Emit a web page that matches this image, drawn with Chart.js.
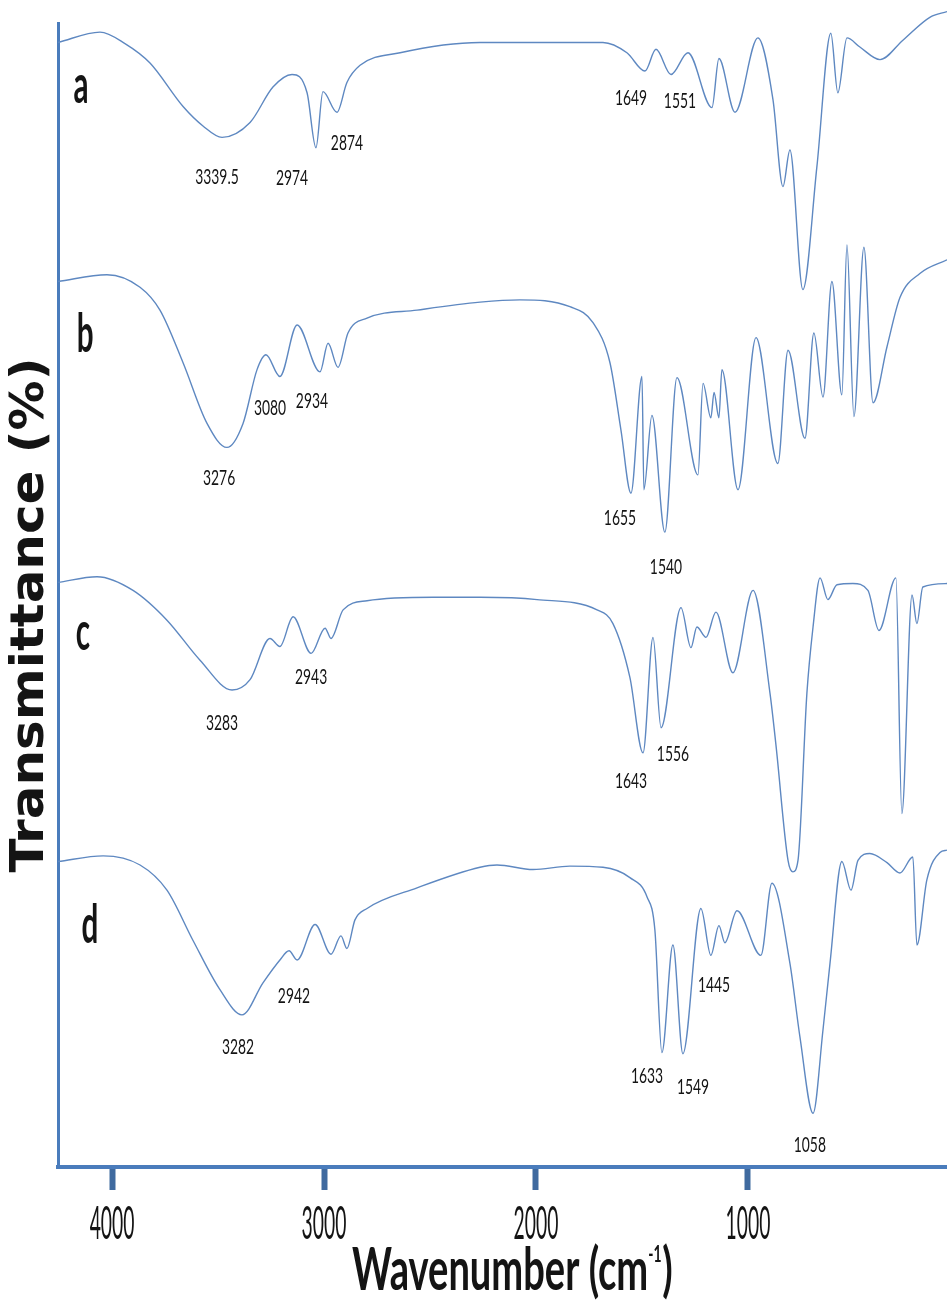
<!DOCTYPE html>
<html>
<head>
<meta charset="utf-8">
<script src="https://cdn.jsdelivr.net/npm/chart.js@4.4.1/dist/chart.umd.min.js"></script>
<style>
html,body{margin:0;padding:0;background:#fff;}
#wrap{width:947px;height:1306px;position:relative;}
</style>
</head>
<body>
<div id="wrap"><canvas id="c" width="947" height="1306"></canvas></div>
<script>
// ---------- DATA (wavenumber cm-1, transmittance with stacking offset, a.u.) ----------
const waveA = [4255,4057,3939,3821,3665,3571,3481,3349,3241,3151,3080,3038,3005,2939,2892,2830,2641,2264,1995,1684,1571,1486,1434,1363,1283,1170,1137,1061,953,882,835,802,741,675,609,576,533,472,377,269,142,61];
const transA = [98.3,99.2,98.2,96.5,92.7,91.0,90.0,91.3,94.4,95.5,93.9,89.1,94.0,92.2,94.8,96.3,97.4,98.3,98.3,98.3,97.4,95.8,97.7,95.5,97.4,92.6,96.9,92.2,98.7,93.3,85.7,88.9,76.7,87.4,99.1,93.9,98.7,97.9,96.8,98.5,100.5,101.0];

const waveB = [4255,4024,3868,3774,3665,3552,3458,3382,3316,3274,3208,3127,3019,2981,2934,2887,2797,2561,2264,2076,1840,1731,1651,1599,1552,1500,1491,1453,1392,1335,1236,1212,1175,1160,1137,1123,1047,962,859,811,731,689,646,604,557,533,500,453,410,344,283,189,61];
const transB = [77.4,78.0,76.9,74.9,70.3,65.0,62.9,65.0,69.7,71.0,69.1,73.6,69.5,72.0,69.9,72.9,74.2,74.9,75.6,75.8,75.2,73.8,70.3,64.4,58.9,69.1,59.2,65.7,55.5,69.0,60.5,68.5,65.5,67.7,65.5,69.7,59.2,72.5,61.5,71.4,63.7,72.9,67.3,77.4,67.5,80.6,65.6,80.4,66.8,71.7,76.0,78.1,79.3];

const waveC = [4255,4071,3901,3741,3585,3434,3349,3255,3208,3146,3061,2995,2967,2910,2797,2486,2264,1995,1712,1637,1557,1495,1448,1410,1316,1269,1241,1198,1151,1071,976,896,868,811,788,764,722,693,660,623,580,505,434,382,302,274,226,203,175,61];
const transC = [51.1,51.6,50.4,47.8,44.3,41.7,42.6,46.2,45.5,48.1,44.9,47.1,46.2,48.7,49.5,49.8,49.8,49.6,48.7,47.5,42.8,36.2,46.3,38.4,48.9,45.4,47.2,46.3,48.5,43.2,50.4,41.4,36.9,26.8,25.8,26.8,41.4,47.2,51.5,49.6,50.9,51.0,50.4,46.9,51.5,30.9,50.0,47.5,50.7,51.0];

const waveD = [4255,4042,3868,3741,3618,3491,3387,3288,3208,3165,3127,3042,2967,2920,2892,2854,2797,2561,2264,2184,2014,1840,1684,1557,1476,1439,1406,1354,1307,1222,1175,1137,1109,1052,939,887,802,755,693,646,613,557,514,481,425,344,283,222,203,156,94,61];
const transD = [26.7,27.2,26.4,24.2,19.8,15.5,13.3,16.1,18.1,18.9,18.1,21.2,18.6,20.2,19.1,21.6,22.6,24.4,26.2,26.4,26.0,26.3,26.2,25.3,23.6,20.7,10.0,19.4,9.9,22.6,18.5,21.1,19.6,22.4,18.5,24.8,17.8,11.4,4.7,12.0,17.8,26.7,24.2,26.8,27.4,26.6,25.7,27.1,19.4,25.1,27.5,27.7];

const tickValues = [4000,3000,2000,1000];

const peakLabels = ['3339.5','2974','2874','1649','1551','3276','3080','2934','1655','1540','3283','2943','1643','1556','3282','2942','1633','1549','1445','1058'];
const labelWave  = [3505,3151,2892,1552,1321,3495,3255,3057,1604,1387,3481,3061,1552,1354,3406,3142,1476,1259,1160,708];
const labelTrans = [86.5,86.4,89.5,93.4,93.2,60.2,66.3,66.9,56.7,52.4,38.8,42.8,33.7,36.1,10.5,14.9,7.9,7.0,15.9,1.9];

const panelLetters = ['a','b','c','d'];
const letterWave  = [4146,4127,4137,4104];
const letterTrans = [93.0,71.2,45.2,19.6];

const xTitleMain = 'Wavenumber (cm';
const xTitleSup = '-1';
const xTitleEnd = ')';
const yTitle = 'Transmittance (%)';

// ---------- STYLE ----------
const LINE_COLOR = '#5e88c1';
const AXIS_COLOR = '#4a7cbc';
const TICK_COLOR = '#3f6a9f';
const TEXT_COLOR = '#141414';

function pts(w, t){ return w.map((x,i)=>({x:x, y:t[i]})); }
function ds(label, w, t){
  return {label:label, data:pts(w,t), borderColor:LINE_COLOR, borderWidth:1.4, pointRadius:0,
          fill:false, cubicInterpolationMode:'monotone', clip:false};
}

const textPlugin = {
  id:'texts',
  afterDraw(chart){
    const ctx = chart.ctx, xs = chart.scales.x, ys = chart.scales.y;
    function txt(s, x, y, font, sx, align, base){
      ctx.save();
      ctx.font = font; ctx.fillStyle = TEXT_COLOR;
      ctx.textAlign = align || 'center'; ctx.textBaseline = base || 'alphabetic';
      ctx.translate(x, y); ctx.scale(sx, 1); ctx.fillText(s, 0, 0);
      ctx.restore();
    }
    // peak annotations
    peakLabels.forEach((s,i)=>{
      txt(s, xs.getPixelForValue(labelWave[i]), ys.getPixelForValue(labelTrans[i]), '21px Lato', 0.66, 'center', 'middle');
    });
    // panel letters
    panelLetters.forEach((s,i)=>{
      txt(s, xs.getPixelForValue(letterWave[i]), ys.getPixelForValue(letterTrans[i]), 'bold 53px Lato', 0.56, 'center', 'alphabetic');
    });
    // x tick labels from the scale's ticks
    xs.ticks.forEach(t=>{
      txt(String(t.value), xs.getPixelForValue(t.value), xs.top + 72, '46px Lato', 0.42, 'center', 'alphabetic');
    });
    // x axis title with superscript
    ctx.save();
    ctx.fillStyle = TEXT_COLOR; ctx.textBaseline = 'alphabetic'; ctx.textAlign = 'left';
    const f1 = 'bold 60px Lato', f2 = 'bold 22px Lato';
    ctx.font = f1; const wa = ctx.measureText(xTitleMain).width; const wc = ctx.measureText(xTitleEnd).width;
    ctx.font = f2; const wb = ctx.measureText(xTitleSup).width;
    const total = wa + wb + wc, targetW = 320, sx = targetW / total;
    const baseY = xs.top + 123, x0 = xs.left + 454 - targetW/2;
    ctx.translate(x0, baseY); ctx.scale(sx, 1);
    ctx.font = f1; ctx.fillText(xTitleMain, 0, 0);
    ctx.font = f2; ctx.fillText(xTitleSup, wa, -28);
    ctx.font = f1; ctx.fillText(xTitleEnd, wa + wb + 1, 0);
    ctx.restore();
    // y axis title (rotated)
    ctx.save();
    ctx.fillStyle = TEXT_COLOR; ctx.font = 'bold 46px "DejaVu Sans"';
    ctx.textAlign = 'center'; ctx.textBaseline = 'alphabetic';
    const yw = ctx.measureText(yTitle).width, ysx = 515 / yw;
    ctx.translate(43, ys.top + 592); ctx.rotate(-Math.PI/2); ctx.scale(ysx, 1);
    ctx.fillText(yTitle, 0, 0);
    ctx.restore();
  }
};

new Chart(document.getElementById('c'), {
  type:'line',
  data:{ datasets:[ ds('a', waveA, transA), ds('b', waveB, transB), ds('c', waveC, transC), ds('d', waveD, transD) ] },
  options:{
    responsive:false, animation:false, events:[],
    layout:{ padding:{ top:23, left:0, right:0, bottom:0 } },
    plugins:{ legend:{display:false}, tooltip:{enabled:false} },
    scales:{
      x:{ type:'linear', reverse:true, min:61, max:4255,
          afterBuildTicks: s => { s.ticks = tickValues.map(v=>({value:v})); },
          afterFit: s => { s.height = 139; },
          grid:{ display:true, drawOnChartArea:false, drawTicks:true, tickLength:23, tickWidth:6, tickColor:TICK_COLOR, color:TICK_COLOR },
          border:{ display:true, color:AXIS_COLOR, width:4 },
          ticks:{ display:false } },
      y:{ min:0, max:100,
          afterFit: s => { s.width = 58; },
          grid:{ display:false },
          border:{ display:true, color:AXIS_COLOR, width:3 },
          ticks:{ display:false } }
    }
  },
  plugins:[textPlugin]
});
</script>
</body>
</html>
